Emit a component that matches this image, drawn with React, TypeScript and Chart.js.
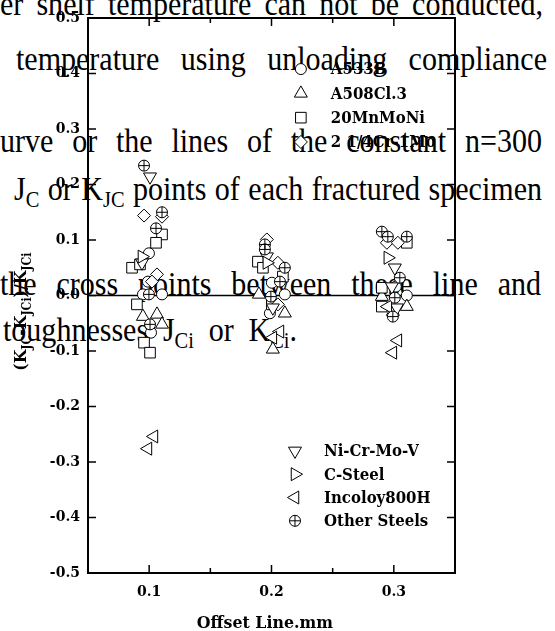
import React, { useEffect, useRef } from 'react';
import { Chart, registerables } from 'chart.js';
import { drawPoint } from 'chart.js/helpers';

Chart.register(...registerables);

// ---------- data ----------
const seriesNames = ['A533B', 'A508Cl.3', '20MnMoNi', '2 1/4Cr-1Mo', 'Ni-Cr-Mo-V', 'C-Steel', 'Incoloy800H', 'Other Steels'];

const a533b = [[0.0998, 0.076], [0.0990, 0.025], [0.0949, 0.002], [0.1105, 0.002], [0.1015, -0.067], [0.2003, 0.023], [0.2109, 0.002], [0.1987, -0.032], [0.3016, 0.016], [0.3106, 0.0]];
const a508 = [[0.0949, -0.038], [0.1064, -0.034], [0.1105, -0.052], [0.1897, 0.002], [0.2109, -0.032], [0.2011, -0.097], [0.2902, -0.002], [0.3106, -0.020], [0.2992, -0.029]];
const mnMoNi = [[0.1105, 0.110], [0.1056, 0.095], [0.0860, 0.050], [0.0925, 0.056], [0.0900, -0.016], [0.0958, -0.085], [0.1007, -0.103], [0.1889, 0.061], [0.1930, 0.050], [0.2093, 0.034], [0.2003, -0.016], [0.3106, 0.095], [0.2902, 0.014], [0.2902, -0.020]];
const crMo = [[0.0958, 0.144], [0.1105, 0.142], [0.1064, 0.038], [0.1023, 0.025], [0.1962, 0.101], [0.2052, 0.059], [0.2052, -0.016], [0.2943, 0.095], [0.3033, 0.095]];
const niCrMoV = [[0.1007, 0.214], [0.0941, 0.059], [0.1962, 0.070], [0.2011, -0.022], [0.3008, 0.050], [0.2984, 0.016], [0.3025, -0.022]];
const cSteel = [[0.0941, 0.070], [0.1962, 0.059], [0.2951, 0.068]];
const incoloy = [[0.1039, -0.254], [0.0990, -0.276], [0.2069, -0.065], [0.2011, -0.076], [0.2951, -0.020], [0.3033, -0.081], [0.2992, -0.103]];
const otherSteels = [[0.0958, 0.234], [0.1105, 0.150], [0.1056, 0.121], [0.0998, 0.002], [0.1007, -0.052], [0.1946, 0.092], [0.1946, 0.083], [0.2109, 0.050], [0.2069, 0.025], [0.1995, -0.002], [0.2902, 0.115], [0.2951, 0.106], [0.3106, 0.106], [0.3049, 0.032], [0.3008, -0.004], [0.2992, -0.038]];

const seriesData = [a533b, a508, mnMoNi, crMo, niCrMoV, cSteel, incoloy, otherSteels];

const zeroLine = [[0.05, 0], [0.35, 0]];
const xTickValues = [0.1, 0.15, 0.2, 0.25, 0.3];
const xLabelValues = [0.1, 0.2, 0.3];
const yTickValues = [-0.5, -0.4, -0.3, -0.2, -0.1, 0, 0.1, 0.2, 0.3, 0.4, 0.5];

const xTitle = 'Offset Line.mm';
const yTitleParts: [string, boolean][] = [['(K', false], ['JC', true], ['-K', false], ['JCi', true], [')/K', false], ['JCi', true]];

// ---------- styles ----------
const SERIF = '"DejaVu Serif", serif';

export default function App() {
  const ref = useRef<HTMLCanvasElement>(null);

  useEffect(() => {
    // marker styles; the last entry ("Other Steels") is a circle with a cross on top
    const markers: any[] = [
      { pointStyle: 'circle', radius: 5.5, rotation: 0 },
      { pointStyle: 'triangle', radius: 7.5, rotation: 0 },
      { pointStyle: 'rect', radius: 7.5, rotation: 0 },
      { pointStyle: 'rectRot', radius: 6.5, rotation: 0 },
      { pointStyle: 'triangle', radius: 7.5, rotation: 180 },
      { pointStyle: 'triangle', radius: 7.5, rotation: 90 },
      { pointStyle: 'triangle', radius: 7.5, rotation: 270 },
      { pointStyle: 'circle', radius: 5.5, rotation: 0, overlay: 'cross' },
    ];

    const legendGroups = [
      { items: [0, 1, 2, 3], fx: 0.58, fy: 0.092, gap: 24.3, textOff: 30 },
      { items: [4, 5, 6, 7], fx: 0.564, fy: 0.78, gap: 23.3, textOff: 29 },
    ];

    const decorPlugin = {
      id: 'decor',
      afterDraw(chart: any) {
        const { ctx, chartArea: a, scales } = chart;
        ctx.save();
        // frame
        ctx.strokeStyle = '#000';
        ctx.lineWidth = 2;
        ctx.strokeRect(a.left, a.top, a.right - a.left, a.bottom - a.top);
        // inward ticks
        ctx.lineWidth = 1.5;
        const line = (x1: number, y1: number, x2: number, y2: number) => {
          ctx.beginPath();
          ctx.moveTo(x1, y1);
          ctx.lineTo(x2, y2);
          ctx.stroke();
        };
        xTickValues.forEach((v) => {
          const px = scales.x.getPixelForValue(v);
          const len = xLabelValues.includes(v) ? 8 : 5;
          line(px, a.bottom, px, a.bottom - len);
          line(px, a.top, px, a.top + len);
        });
        yTickValues.forEach((v) => {
          const py = scales.y.getPixelForValue(v);
          line(a.left, py, a.left + 8, py);
          line(a.right, py, a.right - 8, py);
        });

        // legends
        const w = a.right - a.left;
        const h = a.bottom - a.top;
        legendGroups.forEach((g) => {
          g.items.forEach((idx, k) => {
            const mx = a.left + g.fx * w;
            const my = a.top + g.fy * h + k * g.gap;
            const m = markers[idx];
            ctx.fillStyle = '#fff';
            ctx.strokeStyle = '#000';
            ctx.lineWidth = 1;
            drawPoint(ctx, { pointStyle: m.pointStyle, rotation: m.rotation, radius: m.radius, borderWidth: 1 } as any, mx, my);
            if (m.overlay) {
              drawPoint(ctx, { pointStyle: m.overlay, rotation: 0, radius: m.radius, borderWidth: 1 } as any, mx, my);
            }
            ctx.save();
            ctx.fillStyle = '#000';
            ctx.font = `bold 17px ${SERIF}`;
            ctx.textAlign = 'left';
            ctx.textBaseline = 'middle';
            ctx.translate(mx + g.textOff, my);
            ctx.scale(0.88, 1);
            ctx.fillText(seriesNames[idx], 0, 1);
            ctx.restore();
          });
        });

        // x title
        ctx.save();
        ctx.fillStyle = '#000';
        ctx.font = `bold 17px ${SERIF}`;
        ctx.textAlign = 'center';
        ctx.textBaseline = 'alphabetic';
        ctx.translate(a.left + w * 0.482, a.bottom + 55);
        ctx.scale(0.93, 1);
        ctx.fillText(xTitle, 0, 0);
        ctx.restore();

        // y title (rotated, with subscripts)
        ctx.fillStyle = '#000';
        const mainFont = `bold 17px ${SERIF}`;
        const subFont = `bold 12px ${SERIF}`;
        let total = 0;
        yTitleParts.forEach(([t, sub]) => {
          ctx.font = sub ? subFont : mainFont;
          total += ctx.measureText(t).width;
        });
        ctx.translate(26, a.top + h * 0.529);
        ctx.rotate(-Math.PI / 2);
        ctx.scale(0.92, 1);
        ctx.textAlign = 'left';
        let cx = -total / 2;
        yTitleParts.forEach(([t, sub]) => {
          ctx.font = sub ? subFont : mainFont;
          ctx.fillText(t, cx, sub ? 5 : 0);
          cx += ctx.measureText(t).width;
        });
        ctx.restore();
      },
    };

    const tickFont = { family: SERIF, weight: 'bold' as const, size: 14 };

    const datasets: any[] = seriesData.map((d, i) => ({
      type: 'scatter',
      label: seriesNames[i],
      data: d.map(([x, y]) => ({ x, y })),
      pointStyle: markers[i].pointStyle,
      pointRadius: markers[i].radius,
      pointHoverRadius: markers[i].radius,
      pointRotation: markers[i].rotation,
      pointBackgroundColor: '#ffffff',
      pointBorderColor: '#000000',
      pointBorderWidth: 1,
      showLine: false,
      order: 8 - i,
    }));
    // cross overlay for "Other Steels" (same data, drawn on top of its circles)
    datasets.push({
      type: 'scatter',
      label: 'Other Steels (cross)',
      data: otherSteels.map(([x, y]) => ({ x, y })),
      pointStyle: 'cross',
      pointRadius: 5.5,
      pointHoverRadius: 5.5,
      pointBackgroundColor: '#ffffff',
      pointBorderColor: '#000000',
      pointBorderWidth: 1,
      showLine: false,
      order: -1,
    });
    datasets.push({
      type: 'line',
      label: 'zero',
      data: zeroLine.map(([x, y]) => ({ x, y })),
      borderColor: '#000',
      borderWidth: 1.5,
      pointRadius: 0,
      fill: false,
      tension: 0,
      order: 100,
    });

    const chart = new Chart(ref.current!, {
      type: 'scatter',
      data: { datasets },
      options: {
        animation: false,
        responsive: true,
        maintainAspectRatio: false,
        events: [],
        layout: { padding: { top: 18, right: 100, left: 0, bottom: 0 } },
        plugins: { legend: { display: false }, tooltip: { enabled: false } },
        scales: {
          x: {
            type: 'linear',
            min: 0.05,
            max: 0.35,
            afterBuildTicks: (s: any) => {
              s.ticks = xLabelValues.map((v) => ({ value: v }));
            },
            afterFit: (s: any) => {
              s.height = 58;
            },
            ticks: {
              callback: (v: any) => Number(v).toFixed(1),
              color: '#000',
              font: tickFont,
              padding: 11,
              maxRotation: 0,
              autoSkip: false,
            },
            grid: { display: false, drawTicks: false },
            border: { display: false },
          },
          y: {
            type: 'linear',
            min: -0.5,
            max: 0.5,
            afterBuildTicks: (s: any) => {
              s.ticks = yTickValues.map((v) => ({ value: v }));
            },
            afterFit: (s: any) => {
              s.width = 88;
            },
            ticks: {
              callback: (v: any) => (Math.abs(Number(v)) < 1e-9 ? '0.0' : Number(v).toFixed(1)),
              color: '#000',
              font: tickFont,
              padding: 8,
              autoSkip: false,
            },
            grid: { display: false, drawTicks: false },
            border: { display: false },
          },
        },
      },
      plugins: [decorPlugin],
    } as any);
    return () => chart.destroy();
  }, []);

  const FS = 33;
  const SX = 0.91;
  const lineStyle = (left: number, width: number, baseline: number): React.CSSProperties => ({
    position: 'absolute',
    left,
    top: baseline - 0.8375 * FS,
    width: width / SX,
    fontFamily: '"Liberation Serif", "Times New Roman", serif',
    fontSize: FS,
    lineHeight: FS + 'px',
    textAlign: 'justify',
    textAlignLast: 'justify',
    color: '#000',
    transform: `scaleX(${SX})`,
    transformOrigin: '0 0',
  } as React.CSSProperties);
  const sub: React.CSSProperties = { fontSize: '0.68em', position: 'relative', top: '0.3em', lineHeight: 0 };

  return (
    <div style={{ position: 'absolute', left: 0, top: 0, width: 555, height: 631, overflow: 'hidden', background: '#fff' }}>
      <div style={{ position: 'absolute', left: 0, top: 0, width: 555, height: 631 }}>
        <div style={lineStyle(0, 543, 16)}>er shelf temperature can not be conducted,</div>
        <div style={lineStyle(16, 531, 71)}>temperature using unloading compliance</div>
        <div style={lineStyle(0, 542, 153)}>urve or the lines of the constant n=300</div>
        <div style={lineStyle(14, 528, 201)}>
          J<span style={sub}>C</span> or K<span style={sub}>JC</span> points of each fractured specimen
        </div>
        <div style={lineStyle(0, 541, 296)}>the cross points between these line and</div>
        <div style={lineStyle(3, 294, 342)}>
          toughnesses J<span style={sub}>Ci</span> or K<span style={sub}>Ci</span>.
        </div>
      </div>
      <div style={{ position: 'absolute', left: 0, top: 0, width: 555, height: 631 }}>
        <canvas ref={ref} />
      </div>
    </div>
  );
}
